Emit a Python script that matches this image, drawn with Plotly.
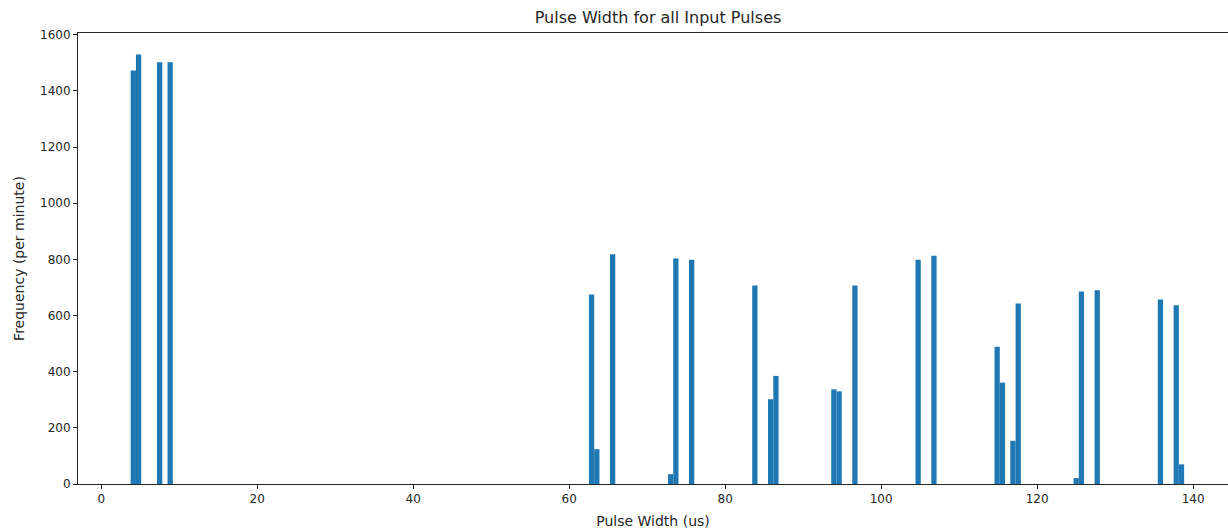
import numpy as np
import plotly.graph_objects as go

# Histogram layout: 200 equal-width bins spanning the observed pulse widths (us)
bin_lo = 3.78
bin_hi = 138.84
n_bins = 200

# Occupied bins (index into the 200 bins) and their counts per minute
bin_index = [0, 1, 5, 7,
             87, 88, 91, 102, 103, 106,
             118, 121, 122, 133, 134, 137,
             149, 152, 164, 165, 167, 168,
             179, 180, 183, 195, 198, 199]
frequency = [1473, 1530, 1502, 1502,
             675, 124, 818, 35, 803, 799,
             707, 302, 385, 337, 330, 707,
             799, 813, 489, 361, 154, 643,
             21, 686, 690, 657, 637, 70]

x_ticks = [0, 20, 40, 60, 80, 100, 120, 140]
y_ticks = [0, 200, 400, 600, 800, 1000, 1200, 1400, 1600]

edges = np.linspace(bin_lo, bin_hi, n_bins + 1)
bin_width = edges[1] - edges[0]
centers = [(edges[i] + edges[i + 1]) / 2 for i in bin_index]

fig = go.Figure(go.Bar(
    x=centers,
    y=frequency,
    width=[bin_width] * len(centers),
    marker=dict(color="#1f77b4", line=dict(width=0)),
    hoverinfo="x+y",
))

span = bin_hi - bin_lo
x_left = bin_lo - 0.05 * span
px_per_unit = 7.80
x_right = x_left + 1150 / px_per_unit

font = "DejaVu Sans"
fig.update_layout(
    width=1228,
    height=529,
    margin=dict(l=78, r=0, t=33, b=45),
    paper_bgcolor="white",
    plot_bgcolor="white",
    showlegend=False,
    font=dict(family=font, size=12, color="#262626"),
    title=dict(
        text="Pulse Width for all Input Pulses",
        font=dict(family=font, size=16, color="#262626"),
        xref="container", x=658 / 1228, xanchor="center",
        yref="container", y=1 - 17 / 529, yanchor="middle",
    ),
    xaxis=dict(
        range=[x_left, x_right],
        tickmode="array", tickvals=x_ticks,
        ticks="outside", ticklen=4, tickwidth=1, tickcolor="#262626",
        showline=True, linecolor="#262626", linewidth=1, mirror=True,
        showgrid=False, zeroline=False,
        tickfont=dict(family=font, size=12, color="#262626"),
        title=dict(text="Pulse Width (us)", standoff=12,
                   font=dict(family=font, size=14, color="#262626")),
        automargin=False,
    ),
    yaxis=dict(
        range=[0, max(frequency) * 1.05],
        tickmode="array", tickvals=y_ticks,
        ticks="outside", ticklen=4, tickwidth=1, tickcolor="#262626",
        showline=True, linecolor="#262626", linewidth=1, mirror=False,
        showgrid=False, zeroline=False,
        tickfont=dict(family=font, size=12, color="#262626"),
        title=dict(text="Frequency (per minute)", standoff=12,
                   font=dict(family=font, size=14, color="#262626")),
        automargin=False,
    ),
)

fig.write_html("out.html")
